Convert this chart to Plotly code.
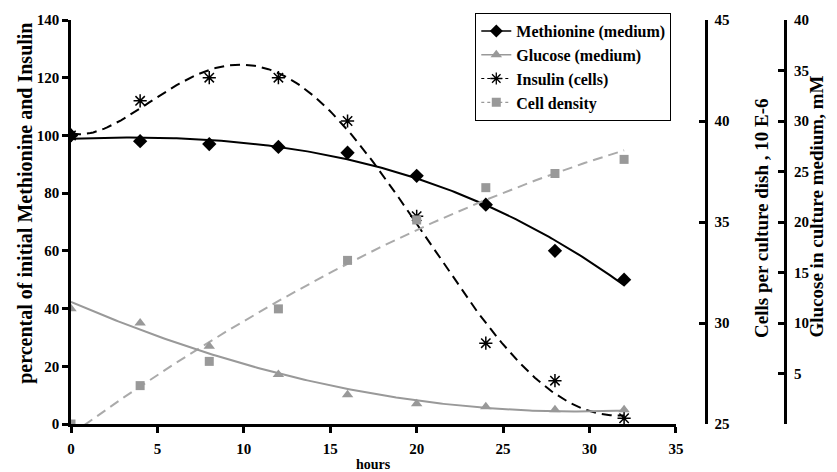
import numpy as np
import plotly.graph_objects as go

hours = [0, 4, 8, 12, 16, 20, 24, 28, 32]
methionine = [100, 98, 97, 96, 94, 86, 76, 60, 50]          # % of initial
insulin = [100, 112, 120, 120, 105, 72, 28, 15, 2]           # % of initial
glucose = [11.4, 10.0, 7.7, 4.9, 2.9, 2.0, 1.7, 1.4, 1.4]    # mM
cells = [25.0, 26.9, 28.1, 30.7, 33.1, 35.1, 36.7, 37.4, 38.1]  # cells per dish

x_ticks = [0, 5, 10, 15, 20, 25, 30, 35]
left_ticks = [0, 20, 40, 60, 80, 100, 120, 140]
cell_ticks = [25, 30, 35, 40, 45]
gluc_ticks = [0, 5, 10, 15, 20, 25, 30, 35, 40]
gluc_ticktext = ["", "5", "10", "15", "20", "25", "30", "35", "40"]

FONT = "Times New Roman"
GRAY = "#999999"
LGRAY = "#aaaaaa"

# polynomial trendlines (as in the spreadsheet chart)
xf = np.linspace(hours[0], hours[-1], 200)
def trend(y, deg):
    return np.polyval(np.polyfit(hours, y, deg), xf)

fig = go.Figure()

# trendlines
fig.add_trace(go.Scatter(x=xf, y=trend(methionine, 3), mode="lines",
                         line=dict(color="black", width=2), showlegend=False, hoverinfo="skip"))
fig.add_trace(go.Scatter(x=xf, y=trend(insulin, 5), mode="lines",
                         line=dict(color="black", width=2, dash="10px,6px"), showlegend=False, hoverinfo="skip"))
fig.add_trace(go.Scatter(x=xf, y=trend(glucose, 2), mode="lines", yaxis="y3",
                         line=dict(color=GRAY, width=2), showlegend=False, hoverinfo="skip"))
fig.add_trace(go.Scatter(x=xf, y=trend(cells, 2), mode="lines", yaxis="y2",
                         line=dict(color=LGRAY, width=2, dash="10px,6px"), showlegend=False, hoverinfo="skip"))

# data markers
fig.add_trace(go.Scatter(x=hours, y=glucose, mode="markers", yaxis="y3", showlegend=False,
                         marker=dict(symbol="triangle-up", size=10, color=GRAY)))
fig.add_trace(go.Scatter(x=hours, y=cells, mode="markers", yaxis="y2", showlegend=False,
                         marker=dict(symbol="square", size=9, color=GRAY)))
fig.add_trace(go.Scatter(x=hours, y=methionine, mode="markers", showlegend=False,
                         marker=dict(symbol="diamond", size=11, color="black")))
fig.add_trace(go.Scatter(x=hours, y=insulin, mode="markers", showlegend=False,
                         marker=dict(symbol="asterisk-open", size=11, color="black",
                                     line=dict(color="black", width=1.5))))

# legend entries
legend_items = [
    ("Methionine (medium)", dict(color="black", width=1.5), dict(symbol="diamond", size=10, color="black")),
    ("Glucose (medium)", dict(color=GRAY, width=1.5), dict(symbol="triangle-up", size=10, color=GRAY)),
    ("Insulin (cells)", dict(color="black", width=1.2, dash="dot"),
     dict(symbol="asterisk-open", size=10, color="black", line=dict(color="black", width=1.3))),
    ("Cell density", dict(color=GRAY, width=1.2, dash="dot"), dict(symbol="square", size=9, color=GRAY)),
]
for i, (name, ln, mk) in enumerate(legend_items):
    fig.add_trace(go.Scatter(x=[None], y=[None], mode="lines+markers", name=name,
                             line=ln, marker=mk, legendgroup=f"g{i}"))

L, R, T, B = 71, 15, 19, 48
W, H = 837, 472
pw = W - L - R
ph = H - T - B
xdom = 609 / pw

axis_common = dict(showline=True, linecolor="black", linewidth=2.5, showgrid=False,
                   zeroline=False, ticklen=6, tickwidth=2.5, tickcolor="black",
                   tickfont=dict(family=FONT, size=15, color="black", weight="bold"))

def ann(text, xp, yp, size, angle=0):
    return dict(text=text, xref="paper", yref="paper", x=(xp - L) / pw, y=(H - B - yp) / ph,
                xanchor="center", yanchor="middle", textangle=angle, showarrow=False,
                font=dict(family=FONT, size=size, color="black", weight="bold"))

fig.update_layout(
    width=W, height=H,
    margin=dict(l=L, r=R, t=T, b=B),
    paper_bgcolor="white", plot_bgcolor="white",
    font=dict(family=FONT, color="black"),
    xaxis=dict(domain=[0, xdom], range=[0, 35], tickvals=x_ticks, ticks="outside",
               ticklabelstandoff=3, **axis_common),
    yaxis=dict(range=[0, 140], tickvals=left_ticks, ticks="outside", **axis_common),
    yaxis2=dict(range=[25, 45], tickvals=cell_ticks, ticks="inside", side="right",
                overlaying="y", anchor="free", position=(710 - L) / pw,
                ticklabelstandoff=4, **axis_common),
    yaxis3=dict(range=[0, 40], tickvals=gluc_ticks, ticktext=gluc_ticktext, ticks="inside",
                side="right", overlaying="y", anchor="free", position=(790 - L) / pw,
                ticklabelstandoff=4, **axis_common),
    legend=dict(x=(478 - L) / pw, y=1 + 7 / ph, xanchor="left", yanchor="top",
                bordercolor="black", borderwidth=1, bgcolor="white",
                font=dict(family=FONT, size=16, color="black", weight="bold"),
                tracegroupgap=0),
    showlegend=True,
    annotations=[
        ann("percental of initial Methionine and Insulin", 25, 203, 20, -90),
        ann("Cells per culture dish , 10 E-6", 766, 218, 19, -90),
        ann("Glucose in culture medium, mM", 822, 206, 19, -90),
        ann("hours", 376, 465, 14),
    ],
)

fig.write_html("out.html", config={"displayModeBar": False},
               post_script="document.body.style.margin='0px';")
